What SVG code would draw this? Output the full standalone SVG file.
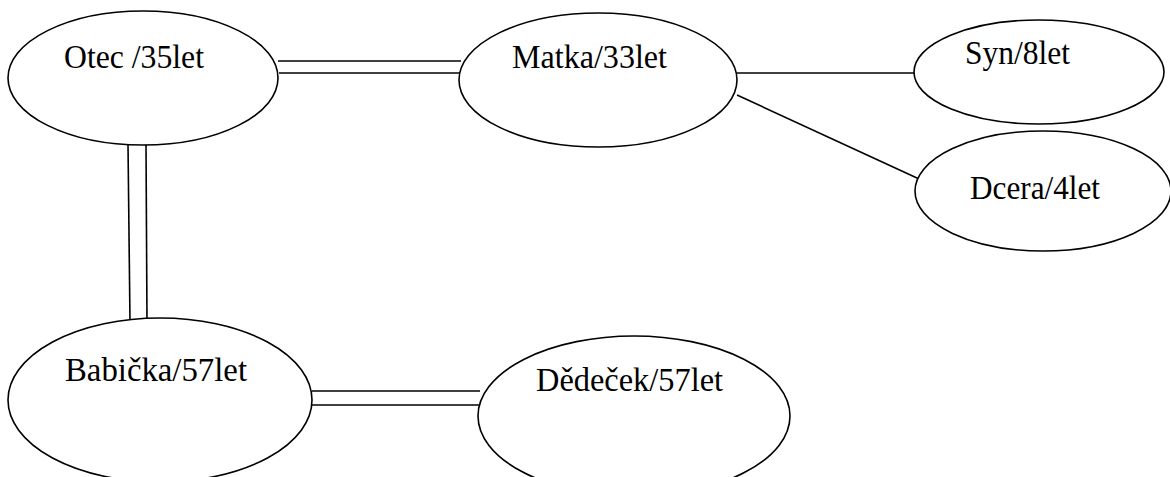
<svg xmlns="http://www.w3.org/2000/svg" width="1170" height="477" viewBox="0 0 1170 477">
<style>
.n{fill:#fff;stroke:#000;stroke-width:1.6}
.t{font-family:"Liberation Serif","Times New Roman",serif;font-size:33px;fill:#000}
.c line{stroke:#000;stroke-width:1.6}
</style>
<rect width="1170" height="477" fill="#fff"/>
<g class="c" id="connectors">
<line x1="278" y1="61" x2="461" y2="61"/>
<line x1="279" y1="73" x2="461" y2="73"/>
<line x1="128" y1="144" x2="130" y2="322"/>
<line x1="146" y1="144" x2="147" y2="322"/>
<line x1="737" y1="73" x2="916" y2="73"/>
<line x1="737" y1="95" x2="930" y2="184"/>
<line x1="312" y1="391" x2="480" y2="391"/>
<line x1="312" y1="405" x2="479" y2="405"/>
</g>
<g id="otec"><ellipse class="n" cx="143" cy="78" rx="135" ry="67"/><text class="t" x="64" y="68" textLength="140" lengthAdjust="spacingAndGlyphs">Otec /35let</text></g>
<g id="matka"><ellipse class="n" cx="598" cy="80" rx="139" ry="67"/><text class="t" x="512" y="68" textLength="155" lengthAdjust="spacingAndGlyphs">Matka/33let</text></g>
<g id="syn"><ellipse class="n" cx="1039" cy="72" rx="125" ry="52"/><text class="t" x="965" y="64" textLength="105" lengthAdjust="spacingAndGlyphs">Syn/8let</text></g>
<g id="dcera"><ellipse class="n" cx="1043" cy="191" rx="128" ry="60"/><text class="t" x="970" y="199" textLength="130" lengthAdjust="spacingAndGlyphs">Dcera/4let</text></g>
<g id="babicka"><ellipse class="n" cx="160" cy="400" rx="152" ry="82"/><text class="t" x="65" y="381" textLength="182" lengthAdjust="spacingAndGlyphs">Babička/57let</text></g>
<g id="dedecek"><ellipse class="n" cx="634" cy="416" rx="156" ry="80"/><text class="t" x="536" y="391" textLength="187" lengthAdjust="spacingAndGlyphs">Dědeček/57let</text></g>
</svg>
